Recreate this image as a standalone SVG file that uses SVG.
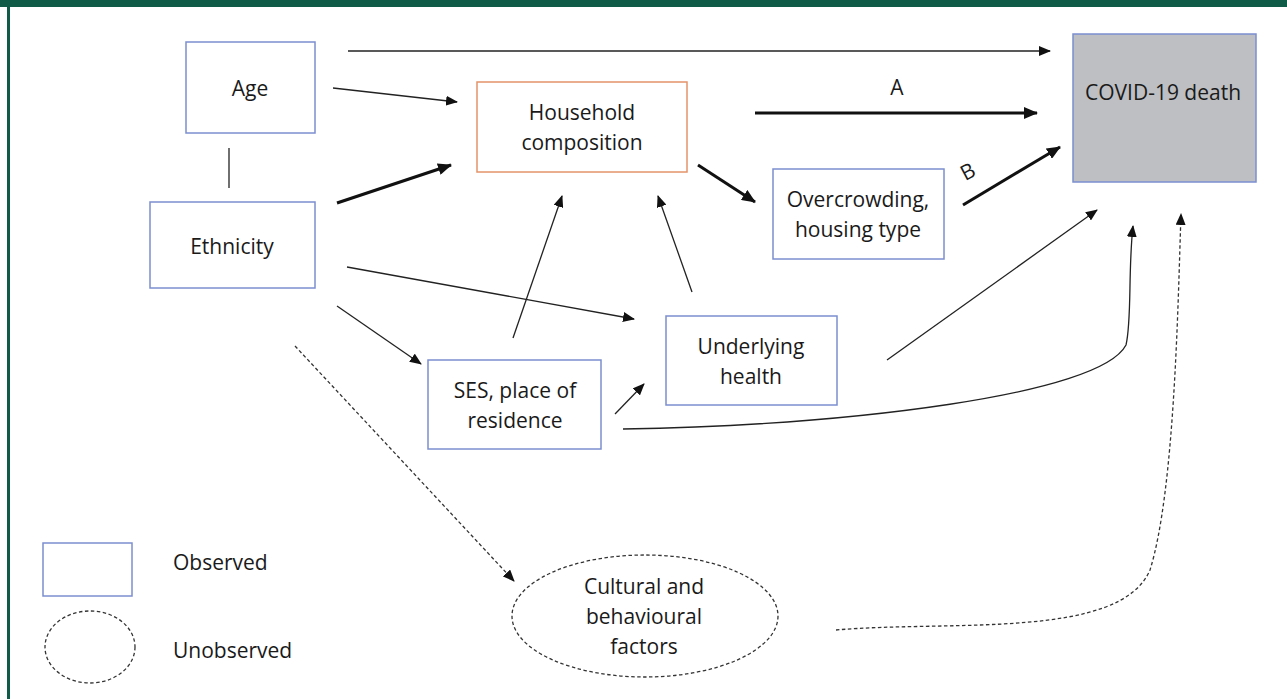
<svg xmlns="http://www.w3.org/2000/svg" width="1287" height="699" viewBox="0 0 1287 699">
<style>
.box{fill:#fff;stroke:#7b8fd0;stroke-width:1.5}
.t{font-family:"Open Sans","Liberation Sans",sans-serif;font-size:21px;fill:#1a1a1a;text-anchor:middle}
.lt{font-family:"Open Sans","Liberation Sans",sans-serif;font-size:21px;fill:#1a1a1a}
.thin{fill:none;stroke:#222;stroke-width:1.3}
.thick{fill:none;stroke:#111;stroke-width:3}
.dash{fill:none;stroke:#333;stroke-width:1.3;stroke-dasharray:3.5 2.5}
</style>
<defs>
<marker id="ah" markerUnits="userSpaceOnUse" markerWidth="12" markerHeight="10" refX="11" refY="5" orient="auto"><path d="M0,0 L12,5 L0,10 Z" fill="#111"/></marker>
<marker id="ahb" markerUnits="userSpaceOnUse" markerWidth="14" markerHeight="12" refX="13" refY="6" orient="auto"><path d="M0,0 L14,6 L0,12 Z" fill="#111"/></marker>
</defs>
<rect x="0" y="0" width="1287" height="699" fill="#fff"/>
<rect x="0" y="0" width="1287" height="7" fill="#0f5b47"/>
<rect x="7" y="0" width="3" height="699" fill="#0f5b47"/>

<g id="connectors">
<line class="thin" x1="348" y1="51" x2="1050" y2="51" marker-end="url(#ah)"/>
<line class="thin" x1="333" y1="88" x2="457" y2="102" marker-end="url(#ah)"/>
<line class="thick" x1="337" y1="203" x2="451" y2="165" marker-end="url(#ahb)"/>
<line class="thin" x1="229" y1="148" x2="229" y2="188"/>
<line class="thick" x1="755" y1="113" x2="1037" y2="113" marker-end="url(#ahb)"/>
<line class="thick" x1="698" y1="165" x2="755" y2="202" marker-end="url(#ahb)"/>
<line class="thick" x1="963" y1="205" x2="1060" y2="147" marker-end="url(#ahb)"/>
<line class="thin" x1="347" y1="267" x2="634" y2="319" marker-end="url(#ah)"/>
<line class="thin" x1="337" y1="306" x2="421" y2="364" marker-end="url(#ah)"/>
<line class="thin" x1="513" y1="338" x2="562" y2="196" marker-end="url(#ah)"/>
<line class="thin" x1="692" y1="292" x2="658" y2="196" marker-end="url(#ah)"/>
<line class="thin" x1="615" y1="414" x2="644" y2="384" marker-end="url(#ah)"/>
<line class="thin" x1="887" y1="360" x2="1097" y2="210" marker-end="url(#ah)"/>
<path class="thin" d="M623,429 C850,425 1100,395 1126,345 C1132,320 1128,270 1133,226" marker-end="url(#ah)"/>
<line class="dash" x1="295" y1="346" x2="514" y2="581" marker-end="url(#ah)"/>
<path class="dash" d="M836,630 C950,620 1120,640 1150,570 C1175,490 1178,300 1181,214" marker-end="url(#ah)"/>
<text class="t" x="897" y="95">A</text>
<text class="t" x="968" y="179" transform="rotate(-28 968 172)">B</text>
</g>

<g id="age">
<rect class="box" x="186" y="42" width="129" height="91"/>
<text class="t" x="250" y="96">Age</text>
</g>
<g id="ethnicity">
<rect class="box" x="150" y="202" width="165" height="86"/>
<text class="t" x="232" y="254">Ethnicity</text>
</g>
<g id="household">
<rect x="477" y="82" width="210" height="90" fill="#fff" stroke="#e3946a" stroke-width="1.5"/>
<text class="t" x="582" y="120">Household</text>
<text class="t" x="582" y="150">composition</text>
</g>
<g id="covid">
<rect x="1073" y="34" width="183" height="148" fill="#bebfc2" stroke="#7b8fd0" stroke-width="1.5"/>
<text class="t" x="1163" y="100">COVID-19 death</text>
</g>
<g id="overcrowding">
<rect class="box" x="773" y="169" width="171" height="90"/>
<text class="t" x="858" y="207">Overcrowding,</text>
<text class="t" x="858" y="237">housing type</text>
</g>
<g id="underlying">
<rect class="box" x="666" y="316" width="171" height="89"/>
<text class="t" x="751" y="354">Underlying</text>
<text class="t" x="751" y="384">health</text>
</g>
<g id="ses">
<rect class="box" x="428" y="360" width="173" height="89"/>
<text class="t" x="515" y="398">SES, place of</text>
<text class="t" x="515" y="428">residence</text>
</g>
<g id="cultural">
<ellipse cx="645" cy="616" rx="133" ry="61" fill="#fff" class="dash"/>
<text class="t" x="644" y="594">Cultural and</text>
<text class="t" x="644" y="624">behavioural</text>
<text class="t" x="644" y="654">factors</text>
</g>
<g id="legend">
<rect class="box" x="43" y="543" width="89" height="53"/>
<text class="lt" x="173" y="570">Observed</text>
<ellipse class="dash" cx="90" cy="647" rx="45" ry="36"/>
<text class="lt" x="173" y="658">Unobserved</text>
</g>
</svg>
